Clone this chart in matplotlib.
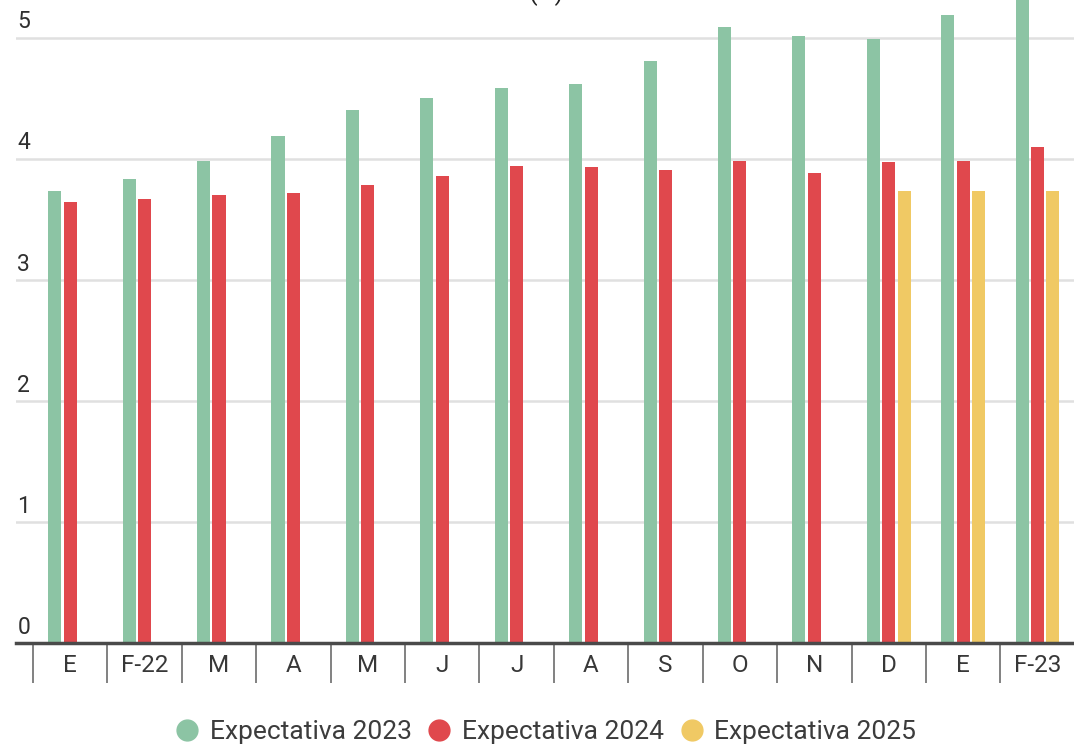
import numpy as np
import matplotlib.pyplot as plt
import matplotlib.transforms as mtransforms
from matplotlib.lines import Line2D

plt.rcParams['font.family'] = ['Roboto', 'DejaVu Sans']

months = ['E', 'F-22', 'M', 'A', 'M', 'J', 'J', 'A', 'S', 'O', 'N', 'D', 'E', 'F-23']
exp2023 = [3.73, 3.83, 3.98, 4.19, 4.40, 4.50, 4.58, 4.62, 4.81, 5.09, 5.01, 4.99, 5.19, 5.40]
exp2024 = [3.64, 3.67, 3.70, 3.72, 3.78, 3.86, 3.94, 3.93, 3.91, 3.98, 3.88, 3.97, 3.98, 4.10]
exp2025 = [np.nan] * 11 + [3.73, 3.73, 3.73]

series = ['Expectativa 2023', 'Expectativa 2024', 'Expectativa 2025']
colors = ['#8cc4a4', '#e0484d', '#f0c964']

fig = plt.figure(figsize=(10.74, 7.44), dpi=100)
ax = fig.add_axes([16 / 1074, 101 / 744, 1 - 16 / 1074, 1 - 101 / 744])

x = np.arange(len(months))
w = 0.175
step = 0.207
for i, (vals, c) in enumerate(zip([exp2023, exp2024, exp2025], colors)):
    ax.bar(x + (i - 1) * step, vals, width=w, color=c, zorder=3)

ax.set_xlim(-0.728, 13.49)
ax.set_ylim(0, 5.31)

# grid and axes
ax.set_yticks([0, 1, 2, 3, 4, 5])
ax.yaxis.grid(True, color='#e0e0e0', linewidth=1.8, zorder=0)
for s in ['top', 'right', 'left']:
    ax.spines[s].set_visible(False)
ax.spines['bottom'].set_color('#4a4a4a')
ax.spines['bottom'].set_linewidth(2.5)
ax.spines['bottom'].set_zorder(4)

ax.tick_params(axis='y', length=0, pad=-1, labelsize=16.5, labelcolor='#303030')
shift = mtransforms.ScaledTranslation(0, 3 / 72, fig.dpi_scale_trans)
for lab in ax.get_yticklabels():
    lab.set_ha('left')
    lab.set_va('bottom')
    lab.set_transform(lab.get_transform() + shift)

# month labels centred, separators as long minor ticks
ax.set_xticks(x)
ax.set_xticklabels(months)
ax.set_xticks(np.arange(len(months)) - 0.5, minor=True)
ax.tick_params(axis='x', which='major', length=0, pad=8, labelsize=17.5, labelcolor='#383838')
ax.tick_params(axis='x', which='minor', length=29, width=1.3, color='#777777')

# title, mostly above the top edge as in the source
fig.text(0.508, 1.0, '(%)', ha='center', va='baseline', fontsize=18, color='#222222')

handles = [Line2D([], [], marker='o', linestyle='', markersize=15, color=c) for c in colors]
fig.legend(handles, series, loc='center', bbox_to_anchor=(0.508, 0.016), ncol=3, frameon=False,
           fontsize=19, handlelength=0.9, handletextpad=0.4, columnspacing=0.6,
           labelcolor='#3c3c3c')

fig.savefig('out.png', dpi=100)
